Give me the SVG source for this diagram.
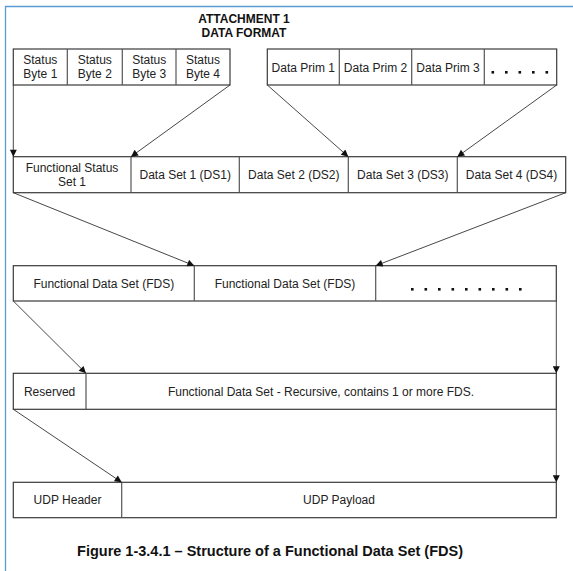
<svg xmlns="http://www.w3.org/2000/svg" width="573" height="571" viewBox="0 0 573 571">
<style>
.c{fill:#fff;stroke:#3a3a3a;stroke-width:1.2}
.d{stroke:#555;stroke-width:1.2}
.t{font-family:"Liberation Sans",Arial,sans-serif;font-size:12px;fill:#222;text-anchor:middle}
.b{font-family:"Liberation Sans",Arial,sans-serif;font-weight:bold;fill:#111;text-anchor:middle}
.a{stroke:#333;stroke-width:0.9;fill:none;marker-end:url(#ah)}
.dot{fill:#111}
</style>
<defs>
<marker id="ah" viewBox="0 0 10 10" refX="10" refY="5" markerWidth="9" markerHeight="7" markerUnits="userSpaceOnUse" orient="auto">
<path d="M0,0L10,5L0,10z" fill="#111"/>
</marker>
</defs>
<rect width="573" height="571" fill="#fff"/>
<path d="M5.5,571V6.5H573" fill="none" stroke="#5b9bd5" stroke-width="1.3"/>
<g id="title">
<text class="b" x="244" y="23" font-size="12">ATTACHMENT 1</text>
<text class="b" x="244" y="37" font-size="12">DATA FORMAT</text>
</g>
<g id="status-bytes">
<rect class="c" x="13.3" y="49" width="216.7" height="36"/>
<line class="d" x1="67.3" y1="49" x2="67.3" y2="85"/>
<line class="d" x1="122.3" y1="49" x2="122.3" y2="85"/>
<line class="d" x1="176" y1="49" x2="176" y2="85"/>
<text class="t" x="40.3" y="64">Status</text><text class="t" x="40.3" y="78">Byte 1</text>
<text class="t" x="94.8" y="64">Status</text><text class="t" x="94.8" y="78">Byte 2</text>
<text class="t" x="149.2" y="64">Status</text><text class="t" x="149.2" y="78">Byte 3</text>
<text class="t" x="203" y="64">Status</text><text class="t" x="203" y="78">Byte 4</text>
</g>
<g id="data-prims">
<rect class="c" x="267.3" y="49" width="289.4" height="36"/>
<line class="d" x1="339.3" y1="49" x2="339.3" y2="85"/>
<line class="d" x1="411.7" y1="49" x2="411.7" y2="85"/>
<line class="d" x1="484.3" y1="49" x2="484.3" y2="85"/>
<text class="t" x="303.3" y="71.5">Data Prim 1</text>
<text class="t" x="375.5" y="71.5">Data Prim 2</text>
<text class="t" x="448" y="71.5">Data Prim 3</text>
<rect class="dot" x="491.5" y="71" width="2.6" height="2.6"/>
<rect class="dot" x="505" y="71" width="2.6" height="2.6"/>
<rect class="dot" x="518.5" y="71" width="2.6" height="2.6"/>
<rect class="dot" x="532" y="71" width="2.6" height="2.6"/>
<rect class="dot" x="545.5" y="71" width="2.6" height="2.6"/>
</g>
<g id="data-sets">
<rect class="c" x="13.3" y="156.7" width="552.4" height="36"/>
<line class="d" x1="131" y1="156.7" x2="131" y2="192.7"/>
<line class="d" x1="239.3" y1="156.7" x2="239.3" y2="192.7"/>
<line class="d" x1="348.3" y1="156.7" x2="348.3" y2="192.7"/>
<line class="d" x1="457.3" y1="156.7" x2="457.3" y2="192.7"/>
<text class="t" x="72" y="172">Functional Status</text><text class="t" x="72" y="186">Set 1</text>
<text class="t" x="185.2" y="179">Data Set 1 (DS1)</text>
<text class="t" x="293.8" y="179">Data Set 2 (DS2)</text>
<text class="t" x="402.8" y="179">Data Set 3 (DS3)</text>
<text class="t" x="511.5" y="179">Data Set 4 (DS4)</text>
</g>
<g id="fds-row">
<rect class="c" x="13.3" y="265.7" width="543" height="35.3"/>
<line class="d" x1="194.3" y1="265.7" x2="194.3" y2="301"/>
<line class="d" x1="375.7" y1="265.7" x2="375.7" y2="301"/>
<text class="t" x="103.8" y="287.5">Functional Data Set (FDS)</text>
<text class="t" x="285" y="287.5">Functional Data Set (FDS)</text>
<rect class="dot" x="411" y="288" width="2.6" height="2.6"/>
<rect class="dot" x="424.5" y="288" width="2.6" height="2.6"/>
<rect class="dot" x="438" y="288" width="2.6" height="2.6"/>
<rect class="dot" x="451.5" y="288" width="2.6" height="2.6"/>
<rect class="dot" x="465" y="288" width="2.6" height="2.6"/>
<rect class="dot" x="478.5" y="288" width="2.6" height="2.6"/>
<rect class="dot" x="492" y="288" width="2.6" height="2.6"/>
<rect class="dot" x="505.5" y="288" width="2.6" height="2.6"/>
<rect class="dot" x="519" y="288" width="2.6" height="2.6"/>
</g>
<g id="recursive-row">
<rect class="c" x="13.3" y="373.3" width="543" height="36"/>
<line class="d" x1="86" y1="373.3" x2="86" y2="409.3"/>
<text class="t" x="49.6" y="395.5">Reserved</text>
<text class="t" x="321" y="395.5">Functional Data Set - Recursive, contains 1 or more FDS.</text>
</g>
<g id="udp-row">
<rect class="c" x="13.3" y="482.3" width="543" height="35.4"/>
<line class="d" x1="121.7" y1="482.3" x2="121.7" y2="517.7"/>
<text class="t" x="67.5" y="504">UDP Header</text>
<text class="t" x="339" y="504">UDP Payload</text>
</g>
<g id="connectors">
<line class="a" x1="13.3" y1="85" x2="13.3" y2="156.7"/>
<line class="a" x1="230" y1="85" x2="131" y2="156.7"/>
<line class="a" x1="267.3" y1="85" x2="348.3" y2="156.7"/>
<line class="a" x1="556.7" y1="85" x2="457.3" y2="156.7"/>
<line class="a" x1="13.3" y1="192.7" x2="194.3" y2="265.7"/>
<line class="a" x1="565.7" y1="192.7" x2="375.7" y2="265.7"/>
<line class="a" x1="13.3" y1="301" x2="86" y2="373.3"/>
<line class="a" x1="556.3" y1="301" x2="556.3" y2="373.3"/>
<line class="a" x1="13.3" y1="409.3" x2="121.7" y2="482.3"/>
<line class="a" x1="556.3" y1="409.3" x2="556.3" y2="482.3"/>
</g>
<g id="caption">
<text class="b" x="270" y="556" font-size="14.5">Figure 1-3.4.1 – Structure of a Functional Data Set (FDS)</text>
</g>
</svg>
